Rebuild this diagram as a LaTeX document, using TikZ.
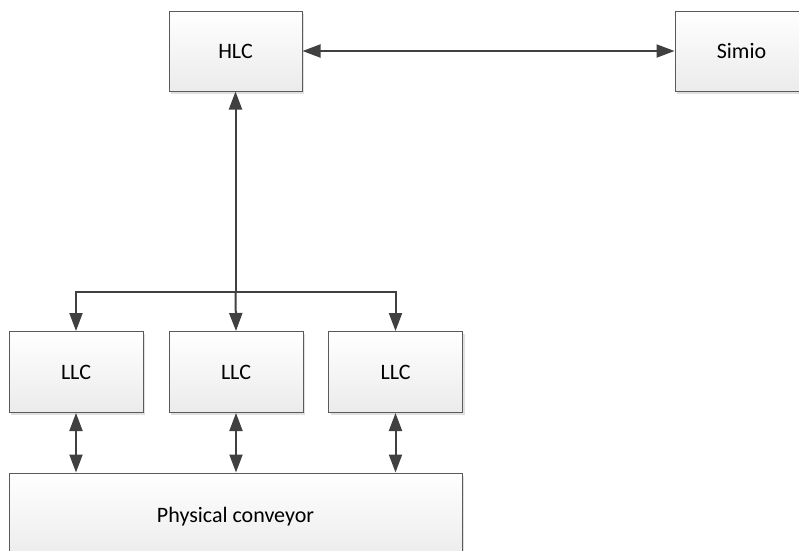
\documentclass[tikz,border=0pt]{standalone}
\usepackage{fontspec}
\setmainfont{Carlito}
\usetikzlibrary{arrows.meta,shadows}
\definecolor{boxline}{HTML}{5A5A5A}
\definecolor{boxbottom}{HTML}{EBEBEB}
\definecolor{linkc}{HTML}{404040}
\begin{document}
\begin{tikzpicture}[x=1pt,y=-1pt,
  box/.style={draw=boxline, line width=1pt, top color=white, bottom color=boxbottom,
    inner sep=0pt, font=\fontsize{22}{26}\selectfont, text=black,
    general shadow={fill=black!12, shadow xshift=2pt, shadow yshift=-2.5pt}},
  unit/.style={box, minimum width=133pt, minimum height=80pt},
  link/.style={draw=linkc, line width=2pt},
  tip/.tip={Triangle[length=18pt,width=13pt]}]
\clip (0,0) rectangle (799,550);
\useasboundingbox (0,0) rectangle (799,550);
\fill[white] (0,0) rectangle (799,550);

% controllers
\node[unit] (hlc) at (235.5,51) {HLC};
\node[unit] (simio) at (741.5,51) {Simio};
\node[unit, minimum width=134pt, minimum height=81pt] (llc1) at (76,372) {LLC};
\node[unit, minimum width=134pt, minimum height=81pt] (llc2) at (236,372) {LLC};
\node[unit, minimum width=134pt, minimum height=81pt] (llc3) at (395.5,372) {LLC};
\node[box, minimum width=453pt, minimum height=88pt] (conv) at (235.5,517) {Physical conveyor};

% HLC <-> Simio
\draw[link, tip-tip] (hlc.east) -- (simio.west);

% HLC to the LLC bus
\coordinate (bus) at (hlc.south |- 0,292);
\draw[link, tip-] (hlc.south) -- (bus);
\draw[link, -tip] (bus) -| (llc1.north);
\draw[link, -tip] (bus) -| (llc3.north);
\draw[link, -tip] (bus) -- (llc2.north);

% LLCs <-> conveyor
\draw[link, tip-tip] (llc1.south) -- (llc1.south |- conv.north);
\draw[link, tip-tip] (llc2.south) -- (llc2.south |- conv.north);
\draw[link, tip-tip] (llc3.south) -- (llc3.south |- conv.north);
\end{tikzpicture}
\end{document}
